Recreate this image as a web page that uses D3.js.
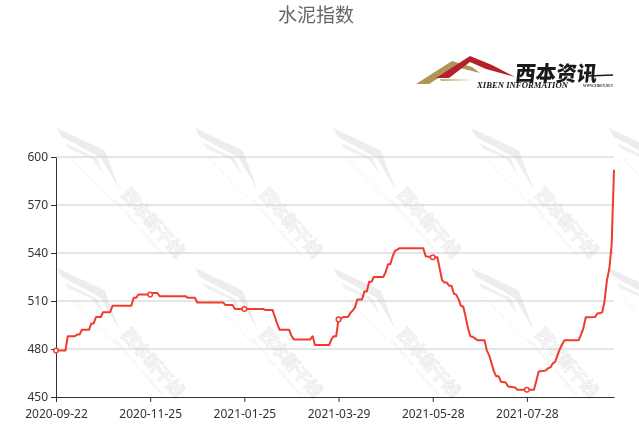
<!DOCTYPE html>
<html>
<head>
<meta charset="utf-8">
<script src="https://cdn.jsdelivr.net/npm/d3@7"></script>
<style>
  html, body { margin: 0; padding: 0; background: #fff; }
  svg { display: block; }
</style>
</head>
<body>
<svg id="chart" width="639" height="429"></svg>
<script>
// ---- data ----
const title = "水泥指数";
const tickLabels = ["2020-09-22", "2020-11-25", "2021-01-25", "2021-03-29", "2021-05-28", "2021-07-28"];
const tickIndex = [0, 40, 80, 120, 160, 200];
const lastIndex = 237;
const yTicks = [450, 480, 510, 540, 570, 600];
// polyline vertices of the index series: category index and value
const vertexIndex = [0,4,5,8,9,10,11,14,15,16,17,19,20,23,24,32,33,34,35,40,41,43,44,55,56,59,60,71,72,75,76,80,88,89,92,93,94,95,99,100,101,108,109,110,116,117,118,119,120,121,122,124,125,126,127,128,130,131,132,133,134,135,139,140,141,142,143,144,146,156,157,159,160,162,163,164,165,166,167,168,169,170,171,172,173,174,175,176,177,178,179,182,183,184,185,186,187,188,189,191,192,195,196,200,203,204,205,208,209,210,211,212,213,214,215,216,222,223,224,225,229,230,231,232,233,234,235,236,237];
const vertexValue = [479,479,488,488,489,489,492,492,496,496,500,500,503,503,507,507,512,512,514,514,515,515,513,513,512,512,509,509,507.5,507.5,505,505,505,504.3,504.3,500,495.5,492,492,488.3,486,486,488,482.5,482.5,486,488,488,498.5,499,500,500,502.5,504,506,511,511,516,516,522,522,525,525,528,533,533,538,541.3,543,543,538,537.5,537.3,537.3,530,523,521.5,521.5,519.5,519.5,514.5,514,511,507,506.4,500,493,488,487.7,486.5,485.5,485.5,479,476,471,466,463,463,459.5,459,456.5,456,454.5,454.5,454.5,460,466,466.5,468,468.5,471,472,476,480,483,485.5,485.5,489,493,499.8,500,502.3,502.3,503,510,523,530,545,592];
// watermark tile anchors (text only on fully visible columns)
const wmCols = [-81, 57, 195, 333, 471, 609];
const wmTextCols = [57, 195, 333, 471];
const wmRows = [128, 268];

// ---- drawing ----
const svg = d3.select("#chart");
const W = 639, H = 429;
const mLeft = 56, mRight = 614, mTop = 157, mBottom = 397;
const red = "#f03b2e";

const x = d3.scaleLinear().domain([0, lastIndex]).range([mLeft, mRight]);
const y = d3.scaleLinear().domain([450, 600]).range([mBottom, mTop]);

svg.append("rect").attr("width", W).attr("height", H).attr("fill", "#fff");

// watermark tiles
const wm = svg.append("g").attr("opacity", 0.38);
wmRows.forEach(ry => wmCols.forEach(cx => {
  const g = wm.append("g").attr("transform", `translate(${cx},${ry}) rotate(44)`);
  g.append("path").attr("d", "M0,0 L50,-17 L88,1 L52,-9 L9,3 Z").attr("fill", "#cfcfcf");
  g.append("path").attr("d", "M16,5 L50,-6 L66,1 L46,-2 L22,7 Z").attr("fill", "#d8d8d8");
  g.append("line").attr("x1", 30).attr("y1", 12).attr("x2", 96).attr("y2", 14)
    .attr("stroke", "#d5d5d5").attr("stroke-width", 1.2).attr("stroke-dasharray", "1.5,1.5");
  if (wmTextCols.includes(cx)) {
    const t = g.append("g").attr("transform", "translate(92,4) rotate(5)");
    t.append("text").attr("x", 0).attr("y", 0).text("西本新干线")
      .attr("font-family", "Noto Sans CJK SC").attr("font-size", 17).attr("font-weight", 700)
      .attr("fill", "#f4f4f4").attr("stroke", "#c8c8c8").attr("stroke-width", 0.9);
    t.append("text").attr("x", 0).attr("y", 9).text("XIBEN NEW LINE · WWW.XIBEN.NET")
      .attr("font-family", "DejaVu Sans").attr("font-size", 4.2).attr("fill", "#cfcfcf");
  }
}));

// grid lines
svg.append("g").selectAll("line").data(yTicks.filter(v => v !== 450)).join("line")
  .attr("x1", mLeft).attr("x2", mRight)
  .attr("y1", d => y(d)).attr("y2", d => y(d))
  .attr("stroke", "#cccccc").attr("stroke-width", 1);

// axes
const yAxis = svg.append("g").attr("transform", `translate(${mLeft},0)`)
  .call(d3.axisLeft(y).tickValues(yTicks).tickSize(5).tickPadding(3).tickSizeOuter(0));
const xAxis = svg.append("g").attr("transform", `translate(0,${mBottom})`)
  .call(d3.axisBottom(x).tickValues(tickIndex).tickFormat((d, i) => tickLabels[i]).tickSize(5).tickPadding(7).tickSizeOuter(0));
[yAxis, xAxis].forEach(a => {
  a.select(".domain").attr("stroke", "#333");
  a.selectAll(".tick line").attr("stroke", "#333");
  a.selectAll(".tick text").attr("fill", "#333").attr("font-size", 12)
    .attr("font-family", "Noto Sans, DejaVu Sans, sans-serif");
});
yAxis.selectAll(".tick text").attr("dy", "0.28em");

// series line
const pts = vertexIndex.map((d, i) => [d, vertexValue[i]]);
svg.append("path").datum(pts)
  .attr("fill", "none").attr("stroke", red).attr("stroke-width", 2)
  .attr("stroke-linejoin", "round")
  .attr("d", d3.line().x(d => x(d[0])).y(d => y(d[1])));

// symbols at label positions
svg.append("g").selectAll("circle").data(pts.filter(p => tickIndex.includes(p[0]))).join("circle")
  .attr("cx", d => x(d[0])).attr("cy", d => y(d[1])).attr("r", 2.3)
  .attr("fill", "#fff").attr("stroke", red).attr("stroke-width", 1.5);

// title
svg.append("text").attr("x", 316).attr("y", 22).attr("text-anchor", "middle")
  .attr("font-family", "Noto Sans CJK SC").attr("font-size", 19).attr("fill", "#666")
  .text(title);

// logo (top right)
const logo = svg.append("g");
logo.append("path").attr("d", "M416,84 L452,61 L472,67 L480,73 L456,67 L429,84 Z").attr("fill", "#b39457");
logo.append("path").attr("d", "M436,78 L470,56 L492,65 L515,77 L486,69 L470,62 L449,78 Z").attr("fill", "#b5202a");
logo.append("path").attr("d", "M440,79 L474,80 L441,81 Z").attr("fill", "#c9a96e");
logo.append("text").attr("x", 515).attr("y", 81)
  .attr("font-family", "Noto Sans CJK SC").attr("font-size", 21).attr("font-weight", 900)
  .attr("fill", "#1a1a1a").attr("transform", "skewX(-6) translate(8,0)")
  .attr("textLength", 82).attr("lengthAdjust", "spacingAndGlyphs")
  .text("西本资讯");
logo.append("line").attr("x1", 588).attr("x2", 613).attr("y1", 76).attr("y2", 75)
  .attr("stroke", "#1a1a1a").attr("stroke-width", 1.4);
logo.append("text").attr("x", 477).attr("y", 88)
  .attr("font-family", "Liberation Serif").attr("font-size", 8).attr("font-weight", 700).attr("font-style", "italic")
  .attr("fill", "#1a1a1a").attr("textLength", 91).attr("lengthAdjust", "spacingAndGlyphs")
  .text("XIBEN INFORMATION");
logo.append("text").attr("x", 583).attr("y", 87)
  .attr("font-family", "Liberation Serif").attr("font-size", 4).attr("font-weight", 700)
  .attr("fill", "#333").attr("textLength", 30).attr("lengthAdjust", "spacingAndGlyphs")
  .text("WWW.XIBEN.NET");
</script>
</body>
</html>
